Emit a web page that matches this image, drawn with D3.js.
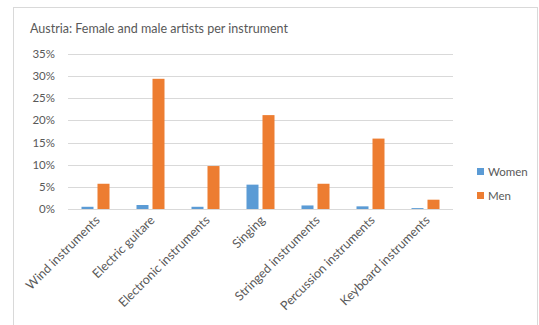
<!DOCTYPE html>
<html><head><meta charset="utf-8">
<script src="https://cdn.jsdelivr.net/npm/d3@7"></script>
<style>body{margin:0;background:#fff}svg{display:block}</style>
</head><body>
<script>
const categories = ["Wind instruments","Electric guitare","Electronic instruments","Singing","Stringed instruments","Percussion instruments","Keyboard instruments"];
const women = [0.5, 0.9, 0.5, 5.5, 0.8, 0.6, 0.2];
const men = [5.7, 29.4, 9.7, 21.2, 5.7, 15.9, 2.1];
const yTicks = [0,5,10,15,20,25,30,35];
const seriesNames = ["Women","Men"];
const colors = ["#5B9BD5","#ED7D31"];

const W=539,H=325;
const svg=d3.select("body").append("svg").attr("width",W).attr("height",H);
const font="Lato, 'Open Sans', sans-serif";
svg.append("rect").attr("x",13.5).attr("y",7.5).attr("width",524).attr("height",340).attr("fill","#fff").attr("stroke","#d9d9d9");
svg.append("text").attr("x",30).attr("y",33).attr("font-family",font).attr("font-size",12.5).attr("fill","#595959").text("Austria: Female and male artists per instrument");

const x=d3.scaleBand().domain(categories).range([68,453]);
const y=d3.scaleLinear().domain([0,35]).range([209,54]);
const g=svg.append("g");
yTicks.forEach(t=>{
  g.append("line").attr("x1",68).attr("x2",453).attr("y1",Math.round(y(t))+0.5).attr("y2",Math.round(y(t))+0.5).attr("stroke","#d9d9d9");
  g.append("text").attr("x",55).attr("y",y(t)+4).attr("text-anchor","end").attr("font-family",font).attr("font-size",11.5).attr("fill","#595959").text(t+"%");
});
const bw=12, gap=4;
[women,men].forEach((arr,si)=>{
  g.selectAll(null).data(arr).enter().append("rect")
   .attr("x",(d,i)=>x(categories[i])+x.bandwidth()/2+(si===0?-(bw+gap/2):gap/2))
   .attr("y",d=>y(d)).attr("width",bw).attr("height",d=>y(0)-y(d)).attr("fill",colors[si]);
});
categories.forEach(c=>{
  const cx=x(c)+x.bandwidth()/2+5, cy=221;
  g.append("text").attr("transform",`translate(${cx},${cy}) rotate(-45)`).attr("text-anchor","end").attr("font-family",font).attr("font-size",12.5).attr("fill","#595959").text(c);
});
seriesNames.forEach((s,i)=>{
  const ly=172+i*24;
  svg.append("rect").attr("x",477).attr("y",ly-4).attr("width",7).attr("height",7).attr("fill",colors[i]);
  svg.append("text").attr("x",488).attr("y",ly+4).attr("font-family",font).attr("font-size",11.5).attr("fill","#595959").text(s);
});
</script>
</body></html>
